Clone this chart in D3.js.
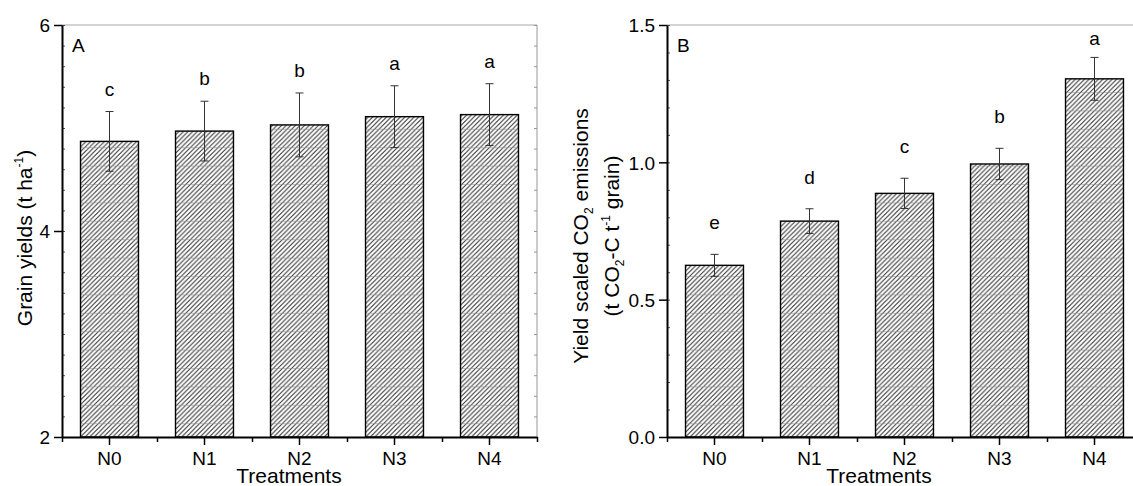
<!DOCTYPE html>
<html>
<head>
<meta charset="utf-8">
<script src="https://cdn.jsdelivr.net/npm/d3@7"></script>
<style>
    body { margin: 0; background: #fff; }
    svg { display: block; font-family: Arial, "Liberation Sans", sans-serif; }
    svg text { font-family: Arial, "Liberation Sans", sans-serif; fill: #000; }
    .tick text { font-size: 19px; }
    .axis-title { font-size: 21px; }
</style>
</head>
<body>
<div class="chart"></div>
<script>
/* Global Constants
============================================= */
const SVG_WIDTH = 1133;
const SVG_HEIGHT = 486;

const PANEL_TOP = 25;
const PANEL_BOTTOM = 437;
const PANEL_WIDTH = 475;

/* Data
============================================= */
const treatments = ["N0", "N1", "N2", "N3", "N4"];

// A: grain yields (t ha-1)
const yieldMean    = [4.87, 4.97, 5.03, 5.11, 5.13];
const yieldErr     = [0.29, 0.29, 0.31, 0.30, 0.30];
const yieldLetters = ["c", "b", "b", "a", "a"];
const yieldTicks   = [2, 4, 6];

// B: yield scaled CO2 emissions
const emisMean    = [0.625, 0.786, 0.887, 0.994, 1.304];
const emisErr     = [0.040, 0.045, 0.055, 0.057, 0.078];
const emisLetters = ["e", "d", "c", "b", "a"];
const emisTicks   = [0.0, 0.5, 1.0, 1.5];

/* SVG
============================================= */
var svg = d3.select(".chart")
    .append("svg")
    .attr("width", SVG_WIDTH)
    .attr("height", SVG_HEIGHT);

// hatch fill used by every bar
var pat = svg.append("defs").append("pattern")
    .attr("id", "hatch")
    .attr("patternUnits", "userSpaceOnUse")
    .attr("width", 4.6)
    .attr("height", 18.4);

pat.append("rect")
    .attr("width", 4.6).attr("height", 18.4)
    .attr("fill", "#fff");

var s = 4.6;
var hatchPath = "";
for (var k = 0; k <= 5; k++) {
    hatchPath += `M${-0.6},${k * s + 0.6}L${s + 0.6},${(k - 1) * s - 0.6}`;
}
pat.append("path")
    .attr("d", hatchPath)
    .attr("stroke", "#333")
    .attr("stroke-width", 0.95);

pat.append("line")
    .attr("x1", 0).attr("x2", s)
    .attr("y1", 0.3).attr("y2", 0.3)
    .attr("stroke", "#8a8a8a")
    .attr("stroke-width", 0.6);

/* Panels
============================================= */
drawPanel({
    left: 62,
    domain: [2, 6],
    ticks: yieldTicks,
    minorStep: 0.2,
    format: d3.format("d"),
    mean: yieldMean,
    err: yieldErr,
    letters: yieldLetters,
    letterGap: 16,
    tag: "A",
    xTitleX: 289
});

drawPanel({
    left: 667,
    domain: [0, 1.5],
    ticks: emisTicks,
    minorStep: 0.1,
    format: d3.format(".1f"),
    mean: emisMean,
    err: emisErr,
    letters: emisLetters,
    letterGap: 25,
    tag: "B",
    xTitleX: 879
});

// y titles
var t1 = svg.append("text")
    .attr("class", "axis-title")
    .attr("text-anchor", "middle")
    .attr("transform", "translate(32, 238) rotate(-90)");
t1.append("tspan").text("Grain yields (t ha");
t1.append("tspan").attr("font-size", "12px").attr("dy", -9).text("-1");
t1.append("tspan").attr("dy", 9).text(")");

var t2 = svg.append("text")
    .attr("class", "axis-title")
    .attr("text-anchor", "middle")
    .attr("transform", "translate(588, 236) rotate(-90)");
t2.append("tspan").text("Yield scaled CO");
t2.append("tspan").attr("font-size", "12px").attr("dy", 5).text("2");
t2.append("tspan").attr("dy", -5).text(" emissions");

var t3 = svg.append("text")
    .attr("class", "axis-title")
    .attr("text-anchor", "middle")
    .attr("transform", "translate(619, 236) rotate(-90)");
t3.append("tspan").text("(t CO");
t3.append("tspan").attr("font-size", "12px").attr("dy", 5).text("2");
t3.append("tspan").attr("dy", -5).text("-C t");
t3.append("tspan").attr("font-size", "12px").attr("dy", -9).text("-1");
t3.append("tspan").attr("dy", 9).text(" grain)");


/* Functions
============================================= */

/*
 * draws one bar panel with axes, error bars and letters
 *
 * @param cfg
 */
function drawPanel(cfg) {
    var g = svg.append("g")
        .attr("transform", `translate(${cfg.left}, 0)`);

    var x = d3.scaleBand()
        .domain(treatments)
        .range([0, PANEL_WIDTH])
        .paddingInner(0.39)
        .paddingOuter(0.195);

    var xb = d3.scaleLinear()
        .domain([0, treatments.length])
        .range([0, PANEL_WIDTH]);

    var y = d3.scaleLinear()
        .domain(cfg.domain)
        .range([PANEL_BOTTOM, PANEL_TOP]);

    var rows = treatments.map(function(t, i) {
        return { t: t, m: cfg.mean[i], e: cfg.err[i], l: cfg.letters[i] };
    });

    // frame: top and right in grey
    g.append("line")
        .attr("x1", 0).attr("x2", PANEL_WIDTH)
        .attr("y1", PANEL_TOP).attr("y2", PANEL_TOP)
        .attr("stroke", "#a8a8a8").attr("stroke-width", 1.2);
    g.append("line")
        .attr("x1", PANEL_WIDTH).attr("x2", PANEL_WIDTH)
        .attr("y1", PANEL_TOP).attr("y2", PANEL_BOTTOM)
        .attr("stroke", "#a8a8a8").attr("stroke-width", 1.2);

    // minor ticks on the right frame
    var minors = d3.range(cfg.domain[0], cfg.domain[1] + 1e-9, cfg.minorStep);
    g.append("g")
        .attr("transform", `translate(${PANEL_WIDTH}, 0)`)
        .call(d3.axisLeft(y).tickValues(minors).tickSize(3).tickFormat(""))
        .call(function(a) {
            a.select(".domain").remove();
            a.selectAll("line").attr("stroke", "#999");
        });

    // bars
    g.selectAll("rect.bar")
        .data(rows)
        .enter()
        .append("rect")
        .attr("class", "bar")
        .attr("x", function(d) { return x(d.t); })
        .attr("y", function(d) { return y(d.m); })
        .attr("width", x.bandwidth())
        .attr("height", function(d) { return PANEL_BOTTOM - y(d.m); })
        .attr("fill", "url(#hatch)")
        .attr("stroke", "#000")
        .attr("stroke-width", 1.4);

    // error bars
    var eb = g.selectAll("g.err")
        .data(rows)
        .enter()
        .append("g")
        .attr("class", "err")
        .attr("stroke", "#333")
        .attr("stroke-width", 1);

    eb.append("line")
        .attr("x1", function(d) { return x(d.t) + x.bandwidth() / 2; })
        .attr("x2", function(d) { return x(d.t) + x.bandwidth() / 2; })
        .attr("y1", function(d) { return y(d.m + d.e); })
        .attr("y2", function(d) { return y(d.m - d.e); });

    [1, -1].forEach(function(sign) {
        eb.append("line")
            .attr("x1", function(d) { return x(d.t) + x.bandwidth() / 2 - 4; })
            .attr("x2", function(d) { return x(d.t) + x.bandwidth() / 2 + 4; })
            .attr("y1", function(d) { return y(d.m + sign * d.e); })
            .attr("y2", function(d) { return y(d.m + sign * d.e); });
    });

    // significance letters
    g.selectAll("text.sig")
        .data(rows)
        .enter()
        .append("text")
        .attr("class", "sig")
        .attr("x", function(d) { return x(d.t) + x.bandwidth() / 2; })
        .attr("y", function(d) {
            return Math.max(y(d.m + d.e) - cfg.letterGap, PANEL_TOP + 20);
        })
        .attr("text-anchor", "middle")
        .attr("font-size", "19px")
        .text(function(d) { return d.l; });

    // y axis
    g.append("g")
        .call(d3.axisLeft(y).tickValues(minors).tickSize(-3).tickFormat(""))
        .call(function(a) {
            a.select(".domain").remove();
            a.selectAll("line").attr("stroke", "#555");
        });

    var yAxis = g.append("g")
        .call(d3.axisLeft(y)
            .tickValues(cfg.ticks)
            .tickFormat(cfg.format)
            .tickSize(8)
            .tickSizeOuter(0)
            .tickPadding(4));
    yAxis.select(".domain").attr("stroke-width", 2);
    yAxis.selectAll(".tick line").attr("stroke-width", 1.5);
    yAxis.selectAll("text").attr("dy", "0.36em");

    // x axis
    g.append("g")
        .attr("transform", `translate(0, ${PANEL_BOTTOM})`)
        .call(d3.axisBottom(xb).tickValues(d3.range(0, treatments.length + 1))
            .tickSize(5).tickSizeOuter(0).tickFormat(""))
        .call(function(a) {
            a.select(".domain").remove();
            a.selectAll("line").attr("stroke-width", 1.5);
        });

    var xAxis = g.append("g")
        .attr("transform", `translate(0, ${PANEL_BOTTOM})`)
        .call(d3.axisBottom(x).tickSize(8).tickSizeOuter(0).tickPadding(7));
    xAxis.select(".domain").attr("stroke-width", 2);
    xAxis.selectAll(".tick line").attr("stroke-width", 1.5);

    // x title
    svg.append("text")
        .attr("class", "axis-title")
        .attr("x", cfg.xTitleX)
        .attr("y", 483)
        .attr("text-anchor", "middle")
        .text("Treatments");

    // panel tag
    g.append("text")
        .attr("x", 10)
        .attr("y", 52)
        .attr("font-size", "19px")
        .text(cfg.tag);
}
</script>
</body>
</html>
